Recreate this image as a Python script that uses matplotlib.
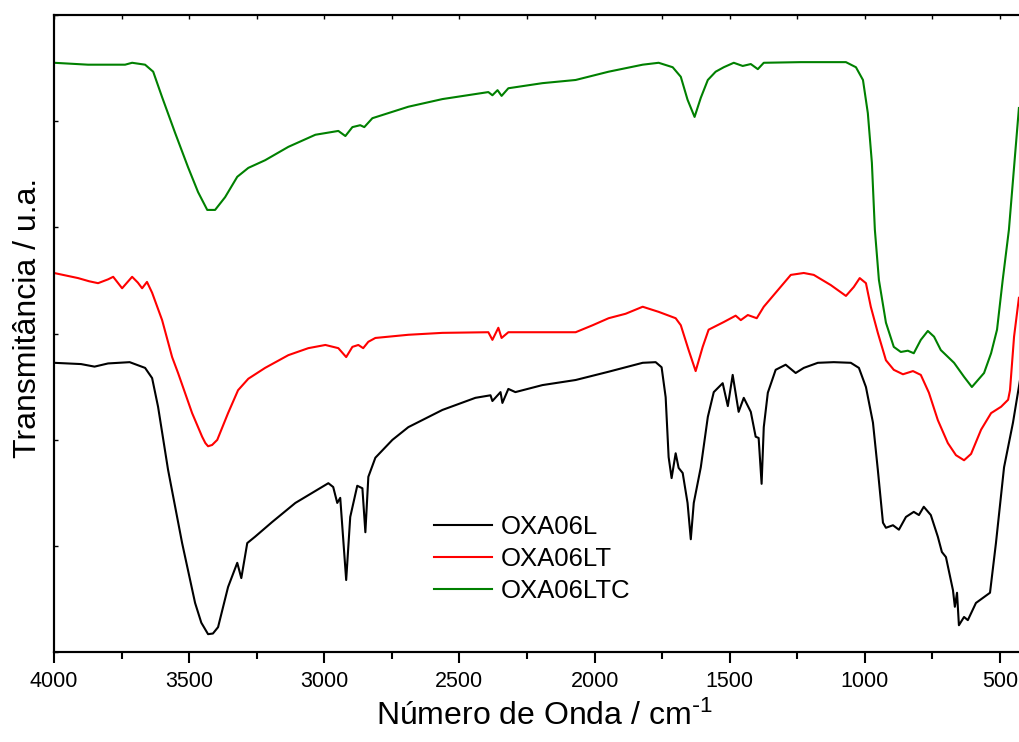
#!/usr/bin/env python3
"""Espectros FTIR OXA06L / OXA06LT / OXA06LTC"""

import matplotlib
matplotlib.use("Agg")

import matplotlib.pyplot as plt
from matplotlib.ticker import MultipleLocator
import numpy as np

# valores (número de onda em cm-1, transmitância em u.a. 0-100)
black_wn = [4000, 3900, 3850, 3800, 3720, 3663, 3637, 3615, 3578, 3526, 3478, 3455, 3430, 3412,
            3393, 3356, 3322, 3307, 3285, 3256, 3193, 3107, 3044, 2985, 2967, 2952, 2941, 2919,
            2904, 2878, 2859, 2848, 2837, 2811, 2748, 2689, 2563, 2441, 2385, 2378, 2348, 2341,
            2319, 2293, 2193, 2070, 1948, 1822, 1774, 1752, 1737, 1726, 1715, 1700, 1689, 1674,
            1656, 1644, 1633, 1607, 1581, 1559, 1526, 1507, 1489, 1467, 1448, 1422, 1404, 1393,
            1382, 1374, 1359, 1330, 1293, 1256, 1226, 1174, 1115, 1052, 1022, 996, 970, 952, 933,
            922, 896, 874, 848, 819, 800, 782, 756, 730, 715, 700, 674, 667, 659, 652, 633, 619,
            589, 563, 537, 515, 485, 452, 426]
black_t = [45.4, 45.2, 44.8, 45.3, 45.5, 44.6, 43.0, 38.5, 28.6, 17.1, 7.7, 4.6, 2.8, 2.9,
           3.9, 10.2, 14.0, 11.6, 17.1, 18.1, 20.4, 23.4, 25.0, 26.5, 25.9, 23.4, 24.2, 11.3,
           21.2, 26.1, 25.7, 18.8, 27.5, 30.5, 33.3, 35.3, 38.0, 39.9, 40.3, 39.4, 40.8, 39.1,
           41.3, 40.8, 41.9, 42.7, 44.0, 45.4, 45.5, 44.7, 40.0, 30.6, 27.3, 31.2, 28.9, 28.1,
           23.4, 17.7, 23.4, 29.0, 36.9, 40.8, 42.2, 38.6, 43.5, 37.7, 39.9, 37.7, 33.8, 33.6,
           26.4, 35.3, 40.7, 44.3, 45.1, 43.8, 44.6, 45.4, 45.5, 45.4, 44.6, 41.6, 36.0, 28.6, 20.3,
           19.5, 19.9, 19.2, 21.2, 22.0, 21.5, 22.8, 21.5, 18.1, 15.7, 14.9, 9.7, 7.1, 9.3, 4.2, 5.5,
           5.0, 7.7, 8.5, 9.3, 17.1, 29.0, 36.0, 42.7]

red_wn = [4000, 3911, 3870, 3837, 3800, 3781, 3748, 3711, 3690, 3674, 3656, 3637, 3600, 3563,
          3541, 3489, 3452, 3440, 3430, 3415, 3396, 3356, 3319, 3281, 3219, 3133, 3059, 2996,
          2948, 2919, 2896, 2874, 2856, 2837, 2811, 2689, 2563, 2393, 2378, 2356, 2344, 2319,
          2193, 2070, 2007, 1948, 1885, 1822, 1763, 1700, 1681, 1652, 1626, 1600, 1578, 1522,
          1478, 1459, 1433, 1400, 1374, 1322, 1274, 1226, 1189, 1126, 1070, 1041, 1019, 996, 978,
          952, 922, 893, 859, 822, 793, 763, 730, 693, 663, 633, 607, 570, 533, 496, 470, 463,
          448, 430]
red_t = [59.5, 58.7, 58.2, 57.9, 58.5, 58.9, 57.1, 58.9, 58.0, 57.1, 58.1, 56.4, 52.1, 46.3,
         43.8, 37.5, 33.8, 32.8, 32.3, 32.5, 33.3, 37.5, 41.1, 42.9, 44.6, 46.6, 47.7, 48.2,
         47.7, 46.3, 47.9, 48.2, 47.7, 48.7, 49.3, 49.8, 50.1, 50.2, 49.0, 50.9, 49.3, 50.2,
         50.2, 50.2, 51.3, 52.4, 53.1, 54.2, 53.4, 52.4, 51.3, 47.4, 44.1, 47.9, 50.6, 51.8,
         52.8, 52.1, 52.9, 52.4, 54.2, 56.8, 59.2, 59.5, 59.2, 57.6, 55.9, 57.3, 58.7, 57.9, 54.2,
         50.1, 45.8, 44.3, 43.6, 44.1, 43.5, 40.7, 36.4, 32.8, 30.9, 30.1, 31.1, 34.9, 37.5, 38.5,
         39.6, 41.1, 49.5, 55.6]

green_wn = [4000, 3874, 3737, 3711, 3663, 3633, 3600, 3552, 3504, 3467, 3433, 3404, 3367, 3322,
            3281, 3219, 3133, 3033, 2948, 2922, 2896, 2867, 2852, 2822, 2689, 2563, 2393, 2378,
            2359, 2344, 2319, 2193, 2070, 1948, 1822, 1763, 1711, 1681, 1656, 1630, 1607, 1581,
            1552, 1522, 1485, 1452, 1422, 1396, 1374, 1237, 1070, 1033, 1007, 989, 974, 963, 948,
            922, 893, 867, 841, 819, 793, 767, 744, 719, 670, 633, 604, 559, 533, 511, 490, 467, 430]
green_t = [92.5, 92.2, 92.2, 92.5, 92.2, 91.1, 87.1, 81.5, 76.1, 72.2, 69.4, 69.4, 71.4, 74.6,
           76.0, 77.2, 79.3, 81.2, 81.8, 81.0, 82.4, 82.7, 82.4, 83.8, 85.6, 86.8, 87.9, 87.4,
           88.2, 87.3, 88.5, 89.3, 89.8, 91.1, 92.2, 92.5, 91.8, 90.3, 86.7, 84.0, 87.0, 89.8,
           91.1, 91.8, 92.5, 92.0, 92.3, 91.5, 92.5, 92.6, 92.6, 91.8, 89.8, 84.6, 76.8, 66.3, 58.4,
           51.7, 47.9, 47.1, 47.3, 46.9, 49.0, 50.4, 49.5, 47.4, 45.4, 43.2, 41.6, 43.8, 46.9, 50.6,
           58.4, 66.3, 85.4]

labels = ["OXA06L", "OXA06LT", "OXA06LTC"]
colors = ["black", "red", "green"]

plt.rcParams["font.family"] = ["Liberation Sans", "DejaVu Sans"]
plt.rcParams["mathtext.default"] = "regular"


def main():
    fig = plt.figure(figsize=(10.19, 7.42), dpi=100)
    ax = fig.add_axes([54 / 1019, 90 / 742, 966 / 1019, 637 / 742])

    for wn, t, lab, col in zip([black_wn, red_wn, green_wn], [black_t, red_t, green_t], labels, colors):
        ax.plot(wn, t, color=col, lw=1.5, label=lab)

    ax.set_xlim(4000, 426)
    ax.set_ylim(0, 100)
    ax.xaxis.set_major_locator(MultipleLocator(500))
    ax.xaxis.set_minor_locator(MultipleLocator(250))
    ax.set_yticks(np.linspace(0, 100, 7))
    ax.tick_params(axis="x", which="major", direction="out", length=8, width=1.5, labelsize=15.5, pad=6)
    ax.tick_params(axis="x", which="minor", direction="out", length=5, width=1.5)
    ax.tick_params(axis="y", direction="in", length=3, width=1.0, labelleft=False)

    # eixo superior: só marcas para dentro
    top = ax.twiny()
    top.set_xlim(ax.get_xlim())
    top.xaxis.set_major_locator(MultipleLocator(500))
    top.xaxis.set_minor_locator(MultipleLocator(250))
    top.tick_params(axis="x", which="both", direction="in", length=3, width=1.0, labeltop=False)

    for a in (ax, top):
        for s in a.spines.values():
            s.set_linewidth(1.5)
        a.spines["right"].set_visible(False)

    ax.set_xlabel(r"Número de Onda / cm$^{\text{-}1}$", fontsize=23, labelpad=11)
    ax.set_ylabel("Transmitância / u.a.", fontsize=23)
    ax.xaxis.set_label_coords(0.508, -0.076)
    ax.yaxis.set_label_coords(-0.011, 0.524)

    ax.legend(loc="center left", bbox_to_anchor=(0.393, 0.146), frameon=False, fontsize=18.5,
              handlelength=2.26, handletextpad=0.35, labelspacing=0.3, borderpad=0, borderaxespad=0)

    fig.savefig("out.png", dpi=100)
    plt.close(fig)


if __name__ == "__main__":
    main()
